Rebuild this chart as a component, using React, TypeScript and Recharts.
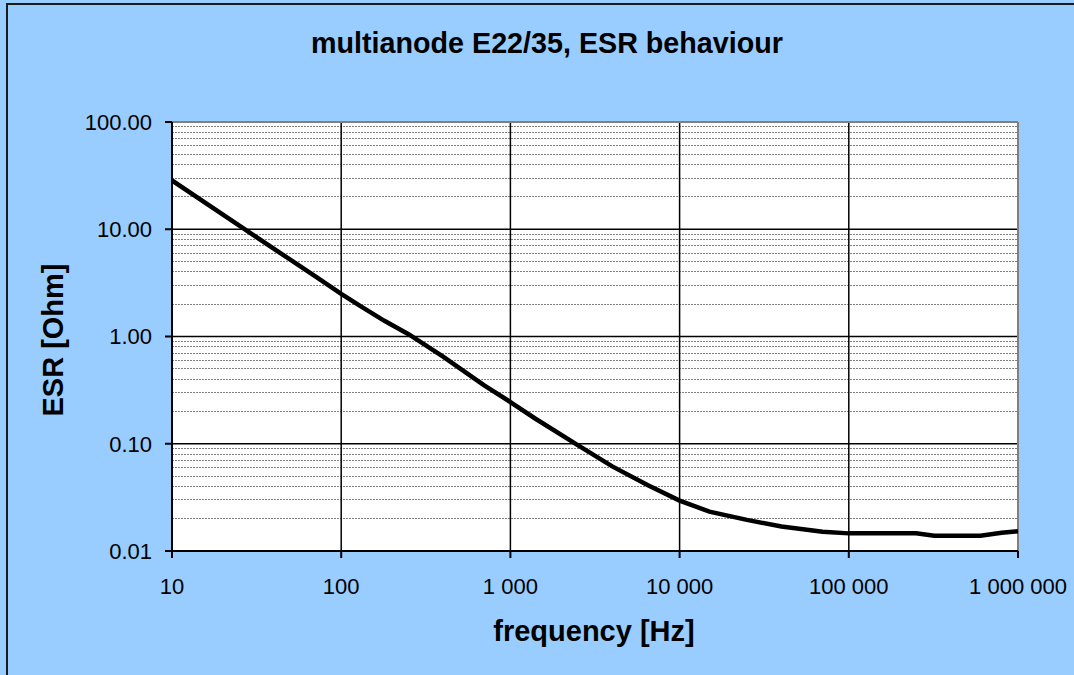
import { LineChart, Line, XAxis, YAxis, CartesianGrid, ReferenceLine } from 'recharts';

const freqHz = [10, 20, 30, 50, 70, 100, 130, 180, 250, 400, 700, 1000, 1400, 2500, 4000, 6500, 10000, 15000, 25000, 40000, 70000, 100000, 250000, 320000, 600000, 800000, 1000000];
const esrOhm = [28.5, 13.7, 8.9, 5.2, 3.65, 2.5, 1.92, 1.4, 1.05, 0.65, 0.35, 0.245, 0.172, 0.097, 0.0615, 0.041, 0.0295, 0.0233, 0.0195, 0.0169, 0.0151, 0.0146, 0.0146, 0.0139, 0.0139, 0.0148, 0.0153];

const xTicks = [10, 100, 1000, 10000, 100000, 1000000];
const yTicks = [0.01, 0.1, 1, 10, 100];
const xMajorGrid = [100, 1000, 10000, 100000];
const yMajorGrid = [0.1, 1, 10];
const yMinorGrid = [1, 10, 100, 1000].flatMap((d) => [2, 3, 4, 5, 6, 7, 8, 9].map((m) => (m * d) / 100));

const data = freqHz.map((f, i) => ({ f, esr: esrOhm[i] }));

const font = '"Liberation Sans", Arial, sans-serif';
const fmtX = (v: number) => String(v).replace(/\B(?=(\d{3})+(?!\d))/g, ' ');

export default function App() {
  return (
    <div style={{ position: 'absolute', left: 0, top: 0, width: 1074, height: 675, overflow: 'hidden', background: '#99CCFF', fontFamily: font }}>
      <div style={{ position: 'absolute', left: 6, top: 3, width: 1200, height: 800, border: '2px solid #1a1a1a' }} />
      <div style={{ position: 'absolute', left: 247, top: 29, width: 600, textAlign: 'center', fontSize: 28.7, lineHeight: '28px', fontWeight: 'bold' }}>
        multianode E22/35, ESR behaviour
      </div>
      <div style={{ position: 'absolute', left: 394, top: 617, width: 400, textAlign: 'center', fontSize: 29, lineHeight: '28px', fontWeight: 'bold' }}>
        frequency [Hz]
      </div>
      <div style={{ position: 'absolute', left: 53 - 150, top: 340 - 14, width: 300, height: 28, textAlign: 'center', fontSize: 29, lineHeight: '28px', fontWeight: 'bold', transform: 'rotate(-90deg)' }}>
        ESR [Ohm]
      </div>
      <div style={{ position: 'absolute', left: 0, top: 0 }}>
        <LineChart width={1074} height={675} data={data} margin={{ top: 122, right: 56, left: 72, bottom: 74 }}>
          <CartesianGrid fill="#ffffff" horizontal={false} vertical={false} />
          {yMinorGrid.map((v) => (
            <ReferenceLine key={'m' + v} y={v} stroke="#808080" strokeWidth={1} strokeDasharray="2 1" shapeRendering="crispEdges" />
          ))}
          {yMajorGrid.map((v) => (
            <ReferenceLine key={'y' + v} y={v} stroke="#000" strokeWidth={1.5} />
          ))}
          {xMajorGrid.map((v) => (
            <ReferenceLine key={'x' + v} x={v} stroke="#000" strokeWidth={1.5} />
          ))}
          <ReferenceLine y={100} stroke="#808080" strokeWidth={2} />
          <ReferenceLine x={1000000} stroke="#808080" strokeWidth={2} />
          <XAxis
            dataKey="f"
            type="number"
            scale="log"
            domain={[10, 1000000]}
            ticks={xTicks}
            allowDataOverflow
            height={50}
            tickFormatter={fmtX}
            tickSize={7}
            tickMargin={20}
            stroke="#000"
            strokeWidth={2}
            tick={{ fontSize: 22, fill: '#000', fontFamily: font }}
          />
          <YAxis
            dataKey="esr"
            type="number"
            scale="log"
            domain={[0.01, 100]}
            ticks={yTicks}
            allowDataOverflow
            width={100}
            tickFormatter={(v: number) => v.toFixed(2)}
            tickSize={7}
            tickMargin={13}
            stroke="#000"
            strokeWidth={2}
            tick={{ fontSize: 22, fill: '#000', fontFamily: font }}
          />
          <Line type="linear" dataKey="esr" stroke="#000" strokeWidth={4.5} dot={false} isAnimationActive={false} />
        </LineChart>
      </div>
    </div>
  );
}
